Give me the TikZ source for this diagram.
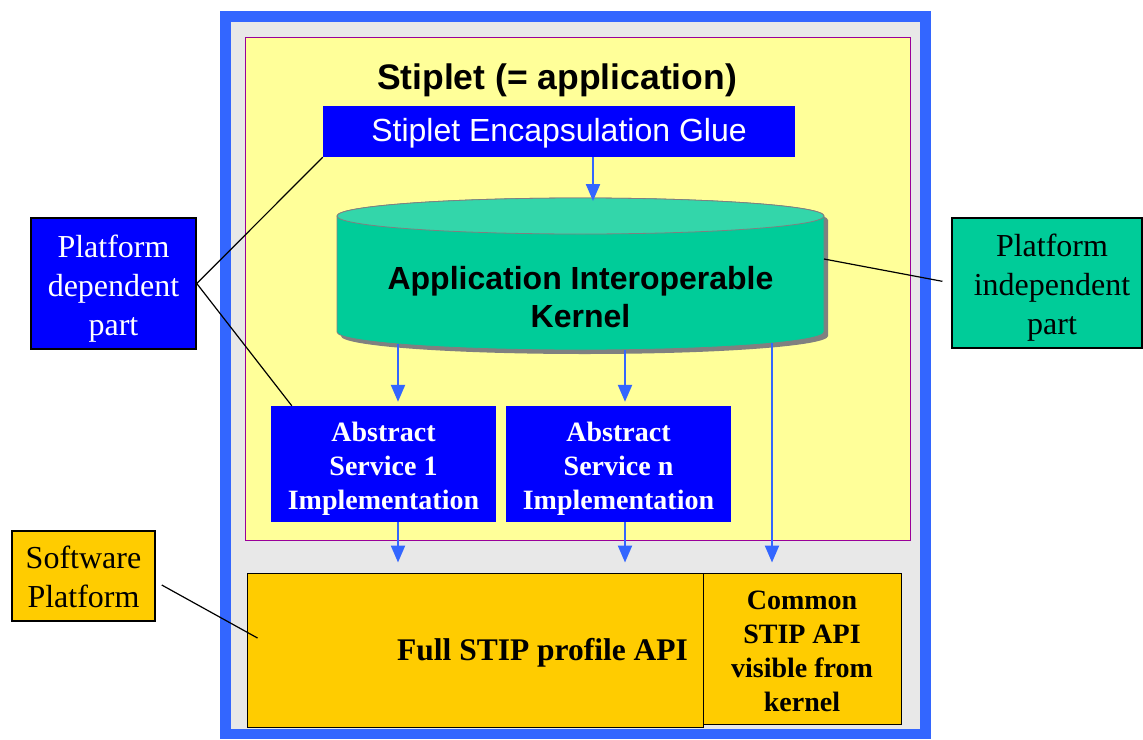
\documentclass[tikz,border=0pt]{standalone}
\usepackage{fontspec}
\setmainfont{Liberation Serif}
\newfontfamily\arialf{Liberation Sans}
\usetikzlibrary{arrows.meta,calc}
\definecolor{frameblue}{HTML}{3366FF}
\definecolor{framegray}{HTML}{E8E8E8}
\definecolor{appyellow}{HTML}{FFFF99}
\definecolor{appborder}{HTML}{990099}
\definecolor{pureblue}{HTML}{0000FF}
\definecolor{kernelgreen}{HTML}{00CC99}
\definecolor{kerneltop}{HTML}{33D6AA}
\definecolor{platorange}{HTML}{FFCC00}
\definecolor{shadowgray}{HTML}{808080}
\tikzset{
  bluebox/.style={fill=pureblue, inner sep=0pt, text=white, align=center},
  orangebox/.style={fill=platorange, draw=black, line width=1pt, inner sep=0pt, align=center},
  labelbox/.style={draw=black, line width=1.5pt, inner sep=0pt, align=center},
  labelfont/.style={font=\fontsize{32}{39}\selectfont, align=center},
  svcfont/.style={font=\bfseries\fontsize{28}{34}\selectfont, text=white, align=center},
  arr/.style={draw=frameblue, line width=2.2pt, -{Triangle[width=14pt,length=17pt]}},
  conn/.style={draw=black, line width=1.2pt},
}
\begin{document}
\begin{tikzpicture}[x=1pt,y=-1pt]
\useasboundingbox (0,0) rectangle (1143,739);

% outer frame and application area
\fill[frameblue] (220,11) rectangle (931,739);
\fill[framegray] (231,22) rectangle (920,729);
\filldraw[fill=appyellow, draw=appborder, line width=0.8pt] (245,37) rectangle (910,540);

\node (title) at (557,80) {\arialf\bfseries\fontsize{35.5}{40}\selectfont Stiplet (= application)};

\node[bluebox, minimum width=472pt, minimum height=51pt,
  label={[text=white, font=\arialf\fontsize{32}{36}\selectfont, yshift=-2pt]center:Stiplet Encapsulation Glue}]
  (glue) at (559,131.5) {};

% kernel cylinder
\fill[shadowgray, shift={(4,4)}] (337,216) -- (337,332)
  arc[start angle=180, end angle=0, x radius=243.5, y radius=18] -- (824,216)
  arc[start angle=0, end angle=-180, x radius=243.5, y radius=18] -- cycle;
\filldraw[fill=kernelgreen, draw=shadowgray, line width=0.8pt] (337,216) -- (337,332)
  arc[start angle=180, end angle=0, x radius=243.5, y radius=18] -- (824,216)
  arc[start angle=0, end angle=-180, x radius=243.5, y radius=18] -- cycle;
\filldraw[fill=kerneltop, draw=shadowgray, line width=0.8pt] (580.5,216) ellipse[x radius=243.5, y radius=18];
\node[align=center, font=\arialf\bfseries\fontsize{32}{38}\selectfont] (kernel) at (580.5,297)
  {Application Interoperable\\Kernel};
\coordinate (kt) at (593,201);
\coordinate (k1) at (398,344);
\coordinate (kn) at (625,350);
\coordinate (kc) at (772,343);
\coordinate (cylR) at (824,259);

% abstract services
\node[bluebox, minimum width=225pt, minimum height=116pt,
  label={[svcfont, yshift=-5pt]center:{Abstract\\Service 1\\Implementation}}] (s1) at (383.5,464) {};
\node[bluebox, minimum width=225pt, minimum height=116pt,
  label={[svcfont, yshift=-5pt]center:{Abstract\\Service n\\Implementation}}] (sn) at (618.5,464) {};

% software platform
\node[orangebox, minimum width=456pt, minimum height=154pt,
  label={[font=\bfseries\fontsize{31.5}{36}\selectfont, anchor=east, yshift=-3pt, xshift=-12pt]east:Full STIP profile API}]
  (full) at (475,650) {};
\node[orangebox, minimum width=198pt, minimum height=151pt,
  label={[font=\bfseries\fontsize{28}{34}\selectfont, align=center, yshift=-3pt]center:{Common\\STIP API\\visible from\\kernel}}]
  (common) at (802,648.5) {};

% side labels
\node[labelbox, fill=pureblue, minimum width=165pt, minimum height=131pt,
  label={[labelfont, text=white, yshift=-5pt]center:{Platform\\dependent\\part}}] (pd) at (113.5,283.5) {};
\node[labelbox, fill=kernelgreen, minimum width=190pt, minimum height=130pt,
  label={[labelfont, yshift=-5pt, xshift=5pt]center:{Platform\\independent\\part}}] (pi) at (1047,283) {};
\node[labelbox, fill=platorange, minimum width=143pt, minimum height=90pt,
  label={[labelfont, yshift=-1pt]center:{Software\\Platform}}] (sp) at (83.5,576) {};

% flow arrows
\draw[arr] (glue.south -| kt) -- (kt);
\draw[arr, shorten >=4pt] (k1) -- (k1 |- s1.north);
\draw[arr, shorten >=4pt] (kn) -- (kn |- sn.north);
\draw[arr, shorten >=10pt] (kc) -- (kc |- common.north);
\draw[arr, shorten >=10pt] (s1.south -| k1) -- (full.north -| k1);
\draw[arr, shorten >=10pt] (sn.south -| kn) -- (full.north -| kn);

% label connectors
\draw[conn] (pd.east) -- (glue.south west);
\draw[conn] (pd.east) -- ($(s1.north west)+(21,0)$);
\draw[conn, shorten >=9pt] (cylR) -- (pi.west);
\draw[conn] ($(sp.east)+(6,9)$) -- ($(full.west)+(11,-12)$);
\end{tikzpicture}
\end{document}
